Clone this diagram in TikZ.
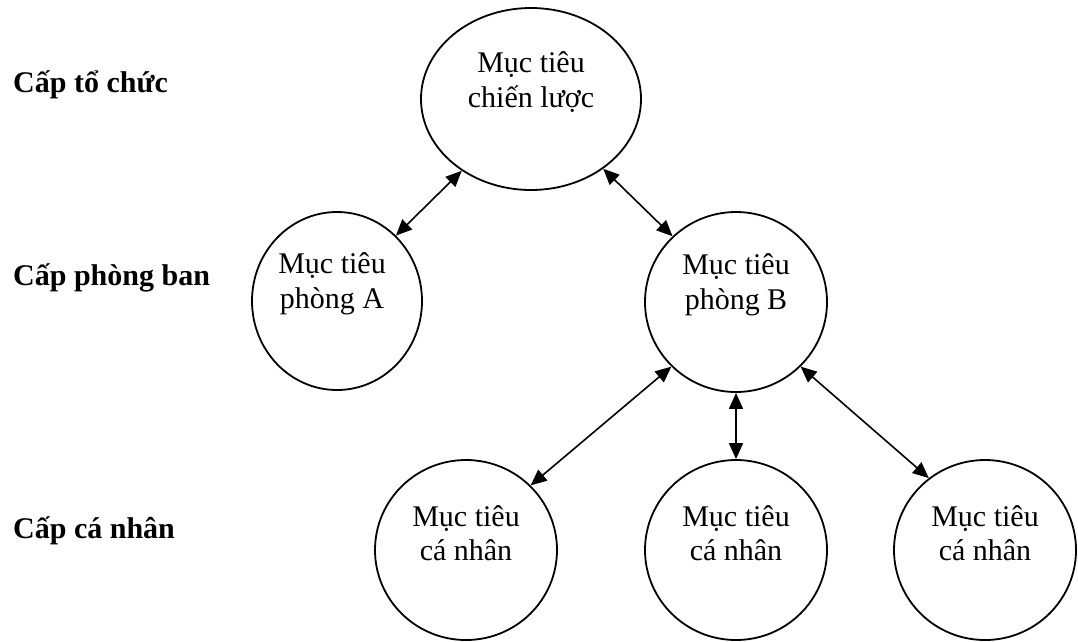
\documentclass[tikz,border=0pt]{standalone}
\usepackage{fontspec}
\setmainfont{Liberation Serif}
\usetikzlibrary{arrows.meta,shapes.geometric}
\begin{document}
\begin{tikzpicture}[x=1pt,y=-1pt,
  goal/.style={draw, line width=1.8pt, ellipse, inner sep=0pt, minimum width=182pt, minimum height=180pt},
  goaltext/.style={align=center, inner sep=0pt, font=\fontsize{30}{34.5}\selectfont},
  level/.style={anchor=base west, inner sep=0pt, font=\fontsize{30}{34.5}\selectfont\bfseries},
  link/.style={line width=1.6pt, {Triangle[length=16pt,width=14pt]}-{Triangle[length=16pt,width=14pt]}}]
\useasboundingbox (0,0) rectangle (1078,641);

% level labels
\node[level] (l1) at (13,92) {Cấp tổ chức};
\node[level] (l2) at (13,285) {Cấp phòng ban};
\node[level] (l3) at (13,538) {Cấp cá nhân};

% ellipses
\node[goal, minimum width=220pt, minimum height=182pt] (top) at (531,99) {};
\node[goal, minimum width=170pt, minimum height=178pt] (pa) at (337,301) {};
\node[goal] (pb) at (736,302) {};
\node[goal] (c1) at (466,550) {};
\node[goal] (c2) at (736,550) {};
\node[goal] (c3) at (985,550) {};

% texts
\node[goaltext] (ttop) at (531,82) {Mục tiêu\\chiến lược};
\node[goaltext] (tpa) at (332,284) {Mục tiêu\\phòng A};
\node[goaltext] (tpb) at (736,285) {Mục tiêu\\phòng B};
\node[goaltext] (tc1) at (466,533) {Mục tiêu\\cá nhân};
\node[goaltext] (tc2) at (736,533) {Mục tiêu\\cá nhân};
\node[goaltext] (tc3) at (985,533) {Mục tiêu\\cá nhân};

% connectors
\draw[link] (top.226) -- (pa.48.6);
\draw[link] (top.316) -- (pb.134.6);
\draw[link] (pb.225.4) -- (c1.45.4);
\draw[link] (pb.270) -- (c2.90);
\draw[link] (pb.315.4) -- (c3.128.5);
\end{tikzpicture}
\end{document}
